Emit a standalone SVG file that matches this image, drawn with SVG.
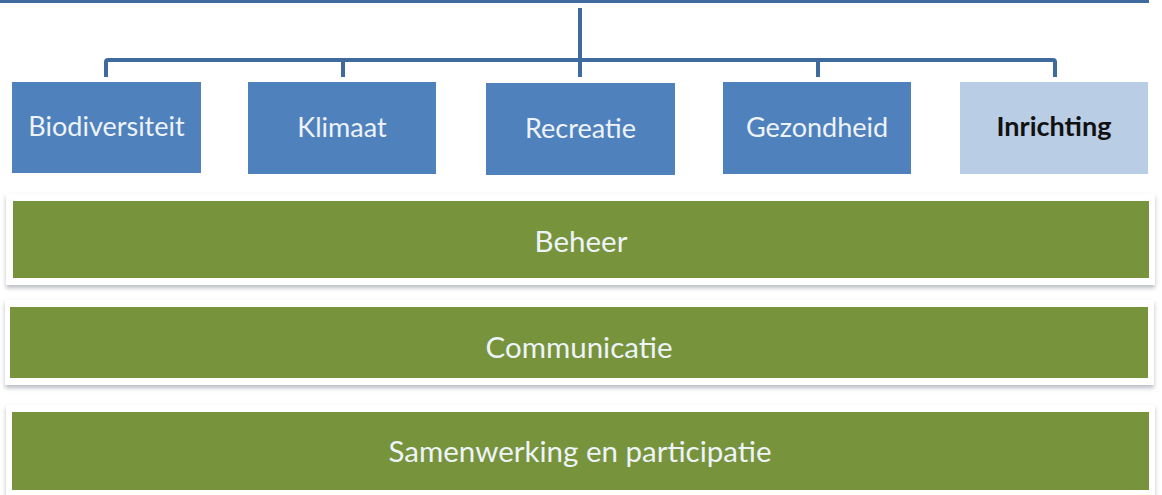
<svg xmlns="http://www.w3.org/2000/svg" width="1162" height="495" viewBox="0 0 1162 495">
<style>
.box{fill:#4f81bd}
.light{fill:#b9cde5}
.bar{fill:#77933c}
.frame{fill:#ffffff;filter:url(#sh)}
.conn{stroke:#3f6a9e;stroke-width:4;fill:none}
.t{font-family:Lato,"Open Sans",sans-serif;font-size:27px;fill:#eef3f9;text-anchor:middle}
.tg{font-size:29.5px}
.tb{font-family:Lato,"Open Sans",sans-serif;font-size:27px;font-weight:bold;fill:#111;text-anchor:middle}
</style>
<defs>
<filter id="sh" x="-5%" y="-20%" width="110%" height="150%">
<feDropShadow dx="0" dy="3" stdDeviation="2" flood-color="#8a8f99" flood-opacity="0.6"/>
</filter>
</defs>
<rect width="1162" height="495" fill="#ffffff"/>
<g id="connectors">
<line class="conn" x1="0" y1="1.5" x2="1149" y2="1.5" style="stroke-width:3"/>
<line class="conn" x1="580" y1="8" x2="580" y2="77"/>
<path class="conn" d="M106 77 V62 Q106 60 108 60 H1053 Q1055 60 1055 62 V77"/>
<line class="conn" x1="343" y1="60" x2="343" y2="77"/>
<line class="conn" x1="818" y1="60" x2="818" y2="77"/>
</g>
<g id="biodiversiteit"><rect class="box" x="12" y="82" width="189" height="91"/><text class="t" x="106.5" y="136">Biodiversiteit</text></g>
<g id="klimaat"><rect class="box" x="248" y="82" width="188" height="92"/><text class="t" x="342" y="137">Klimaat</text></g>
<g id="recreatie"><rect class="box" x="486" y="83" width="189" height="92"/><text class="t" x="580.5" y="138">Recreatie</text></g>
<g id="gezondheid"><rect class="box" x="723" y="82" width="188" height="92"/><text class="t" x="817" y="137">Gezondheid</text></g>
<g id="inrichting"><rect class="light" x="960" y="82" width="188" height="92"/><text class="tb" x="1054" y="136">Inrichting</text></g>
<g id="beheer"><rect class="frame" x="6" y="194" width="1149" height="91"/><rect class="bar" x="13" y="201" width="1136" height="77"/><text class="t tg" x="581" y="252">Beheer</text></g>
<g id="communicatie"><rect class="frame" x="5" y="300" width="1149" height="85"/><rect class="bar" x="10" y="307" width="1138" height="71"/><text class="t tg" x="579" y="358">Communicatie</text></g>
<g id="samenwerking"><rect class="frame" x="6" y="405" width="1149" height="92"/><rect class="bar" x="12" y="412" width="1137" height="78"/><text class="t tg" x="580" y="462">Samenwerking en participatie</text></g>
</svg>
